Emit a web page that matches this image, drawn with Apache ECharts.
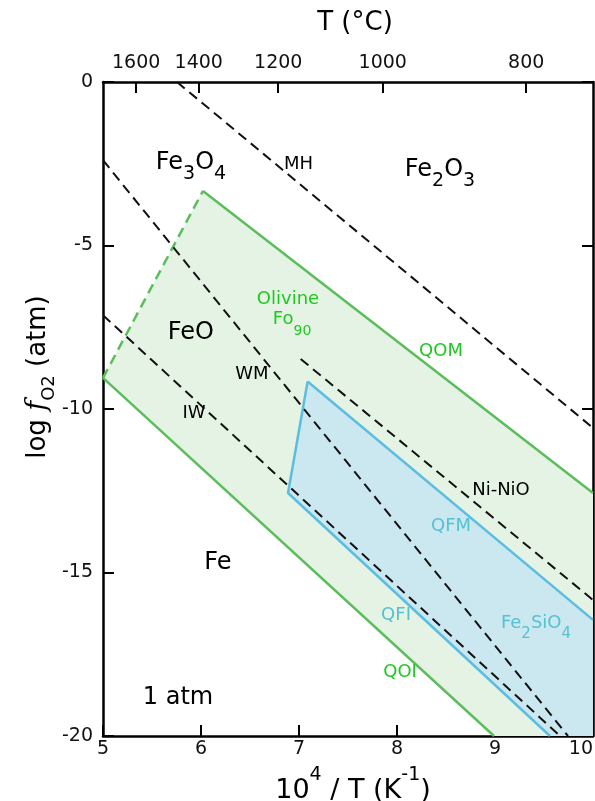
<!DOCTYPE html>
<html>
<head>
<meta charset="utf-8">
<script src="https://cdn.jsdelivr.net/npm/echarts@6/dist/echarts.min.js"></script>
<style>
html,body{margin:0;padding:0;background:#fff;}
#chart{width:595px;height:801px;}
</style>
</head>
<body>
<div id="chart"></div>
<script>
// ---- data (x = 10^4/T in K^-1, y = log fO2 in atm) ----
const xRange = [5, 10];
const yRange = [-20, 0];
const topTempTicksC = [1600, 1400, 1200, 1000, 800];

const olivineFo90Field = [[5, -9.05], [6.02, -3.33], [10, -12.57], [10, -20], [8.99, -20]];
const fayaliteField = [[6.888, -12.57], [7.088, -9.16], [10, -16.45], [10, -20], [9.561, -20]];

const QOM = [[6.02, -3.33], [10, -12.57]];
const QOI = [[5, -9.05], [8.99, -20]];
const olivineHighT = [[5, -9.05], [6.02, -3.33]];
const QFM = [[7.088, -9.16], [10, -16.45]];
const QFI = [[7.088, -9.16], [6.888, -12.57], [9.561, -20]];

const MH = [[5.755, 0], [10, -10.58]];
const WM = [[5, -2.39], [9.745, -20]];
const IW = [[5, -7.13], [9.663, -20]];
const NiNiO = [[7.017, -8.47], [10, -15.84]];

const labelTexts = ['{m|Fe}{s|3}{m|O}{s|4}', 'MH', '{m|Fe}{s|2}{m|O}{s|3}', 'Olivine', '{m|Fo}{s|90}', 'FeO', 'WM', 'QOM', 'IW', 'Ni-NiO', 'QFM', 'Fe', 'QFI', '{m|Fe}{s|2}{m|SiO}{s|4}', 'QOI', '1 atm'];
const labelX = [5.898, 6.995, 8.439, 6.888, 6.929, 5.895, 6.520, 8.449, 5.929, 9.061, 8.551, 6.173, 7.990, 9.418, 8.031, 5.765];
const labelY = [-2.47, -2.52, -2.69, -6.66, -7.27, -7.66, -8.95, -8.24, -10.14, -12.49, -13.59, -14.69, -16.31, -16.55, -18.05, -18.84];
const labelKind = ['bigSub', 'black', 'bigSub', 'green', 'greenSub', 'big', 'black', 'green', 'black', 'black', 'blue', 'big', 'blue', 'blueSub', 'green', 'atm'];

// ---- styles ----
const FONT = 'DejaVu Sans';
const GREEN_LINE = '#5cbd5c';
const GREEN_FILL = '#e5f3e5';
const BLUE_LINE = '#5bbde2';
const BLUE_FILL = '#cbe7ef';
const GREEN_TEXT = '#1fc81f';
const BLUE_TEXT = '#55c2cf';
const INK = '#000';

function kindStyle(kind) {
  const base = { fontFamily: FONT, color: INK, fontSize: 18, textBorderWidth: 0, textShadowBlur: 0 };
  if (kind === 'black') return base;
  if (kind === 'green') return Object.assign({}, base, { color: GREEN_TEXT });
  if (kind === 'blue') return Object.assign({}, base, { color: BLUE_TEXT });
  if (kind === 'big') return Object.assign({}, base, { fontSize: 24 });
  if (kind === 'atm') return Object.assign({}, base, { fontSize: 24 });
  const mk = (col, M, S, off) => {
    const L = S + 2 * (0.3 * M + off - 0.3 * S);
    return Object.assign({}, base, {
      color: col,
      rich: {
        m: { fontFamily: FONT, fontSize: M, color: col, lineHeight: L, textBorderWidth: 0 },
        s: { fontFamily: FONT, fontSize: S, color: col, lineHeight: S, verticalAlign: 'bottom', textBorderWidth: 0 }
      }
    });
  };
  if (kind === 'bigSub') return mk(INK, 24, 19, 10);
  if (kind === 'greenSub') return mk(GREEN_TEXT, 18, 14, 10);
  if (kind === 'blueSub') return mk(BLUE_TEXT, 18, 15, 10);
  return base;
}

function polygonSeries(vertices, fill, z) {
  return {
    type: 'custom',
    coordinateSystem: 'cartesian2d',
    xAxisIndex: 0, yAxisIndex: 0,
    z: z,
    silent: true,
    data: vertices,
    renderItem: function (params, api) {
      if (params.dataIndex !== 0) return null;
      const pts = vertices.map(v => api.coord(v));
      return { type: 'polygon', shape: { points: pts }, style: { fill: fill, stroke: null } };
    }
  };
}

function lineSeries(data, color, width, dashed, z) {
  return {
    type: 'line',
    xAxisIndex: 0, yAxisIndex: 0,
    data: data,
    symbol: 'none',
    z: z,
    silent: true,
    lineStyle: { color: color, width: width, type: dashed ? [10, 6] : 'solid', cap: 'butt' }
  };
}

const axisLineStyle = { color: '#000', width: 2.5 };
const tickStyle = { color: '#000', width: 2 };
const tickLabel = { fontFamily: FONT, fontSize: 19, color: '#111' };

const option = {
  animation: false,
  backgroundColor: '#fff',
  grid: { left: 103, right: 2, top: 82, bottom: 65, containLabel: false, outerBoundsMode: 'none' },
  xAxis: [
    {
      type: 'value', position: 'bottom', min: xRange[0], max: xRange[1], interval: 1,
      axisLine: { show: true, onZero: false, lineStyle: axisLineStyle },
      axisTick: { show: true, inside: true, length: 11, lineStyle: tickStyle },
      axisLabel: Object.assign({ margin: 4, hideOverlap: false, showMaxLabel: true, showMinLabel: true, alignMaxLabel: 'right' }, tickLabel),
      splitLine: { show: false },
      name: '{m|10}{p|4}{m| / T (K}{p|-1}{m|)}',
      nameLocation: 'middle',
      nameGap: 30,
      nameTextStyle: {
        fontFamily: FONT, fontSize: 27, color: INK, padding: [0, 0, 0, 10],
        rich: {
          m: { fontFamily: FONT, fontSize: 27, color: INK, lineHeight: 50 },
          p: { fontFamily: FONT, fontSize: 19, color: INK, lineHeight: 19, verticalAlign: 'top' }
        }
      }
    },
    {
      type: 'value', position: 'top', min: xRange[0], max: xRange[1],
      axisLine: { show: true, onZero: false, lineStyle: axisLineStyle },
      axisTick: { show: true, inside: true, length: 11, lineStyle: tickStyle,
        customValues: topTempTicksC.map(t => 10000 / (t + 273.15)) },
      axisLabel: Object.assign({ margin: 9,
        customValues: topTempTicksC.map(t => 10000 / (t + 273.15)),
        formatter: v => String(Math.round((10000 / v - 273.15) / 100) * 100) }, tickLabel),
      splitLine: { show: false },
      name: 'T (°C)',
      nameLocation: 'middle',
      nameGap: 46,
      nameTextStyle: { fontFamily: FONT, fontSize: 26, color: INK, padding: [0, 0, 0, 14] }
    }
  ],
  yAxis: [
    {
      type: 'value', position: 'left', min: yRange[0], max: yRange[1], interval: 5,
      axisLine: { show: true, onZero: false, lineStyle: axisLineStyle },
      axisTick: { show: true, inside: true, length: 11, lineStyle: tickStyle },
      axisLabel: Object.assign({ margin: 10 }, tickLabel),
      splitLine: { show: false },
      name: '{m|log }{i|f}{s|O2}{m| (atm)}',
      nameLocation: 'middle',
      nameGap: 45,
      nameMoveOverlap: false,
      nameTextStyle: {
        fontFamily: FONT, fontSize: 26, color: INK, padding: [0, 0, 0, 64],
        rich: {
          m: { fontFamily: FONT, fontSize: 26, color: INK, lineHeight: 40 },
          i: { fontFamily: 'DejaVu Serif', fontStyle: 'italic', fontSize: 27, color: INK, lineHeight: 40 },
          s: { fontFamily: FONT, fontSize: 18, color: INK, lineHeight: 18, verticalAlign: 'bottom' }
        }
      }
    },
    {
      type: 'value', position: 'right', min: yRange[0], max: yRange[1], interval: 5,
      axisLine: { show: true, onZero: false, lineStyle: axisLineStyle },
      axisTick: { show: true, inside: true, length: 11, lineStyle: tickStyle },
      axisLabel: { show: false },
      splitLine: { show: false }
    }
  ],
  series: [
    polygonSeries(olivineFo90Field, GREEN_FILL, 1),
    polygonSeries(fayaliteField, BLUE_FILL, 2),
    lineSeries(QOM, GREEN_LINE, 2.5, false, 3),
    lineSeries(QOI, GREEN_LINE, 2.5, false, 3),
    lineSeries(olivineHighT, GREEN_LINE, 2.5, true, 3),
    lineSeries(QFM, BLUE_LINE, 2.5, false, 4),
    lineSeries(QFI, BLUE_LINE, 2.5, false, 4),
    lineSeries(MH, '#111', 2, true, 5),
    lineSeries(WM, '#111', 2, true, 5),
    lineSeries(IW, '#111', 2, true, 5),
    lineSeries(NiNiO, '#111', 2, true, 5),
    {
      type: 'scatter',
      xAxisIndex: 0, yAxisIndex: 0,
      symbolSize: 0,
      z: 10,
      silent: true,
      itemStyle: { opacity: 1 },
      data: labelTexts.map((t, i) => ({
        value: [labelX[i], labelY[i]],
        label: Object.assign({ show: true, position: 'inside', align: 'center', verticalAlign: 'middle',
          formatter: t }, kindStyle(labelKind[i]))
      }))
    }
  ]
};

const chart = echarts.init(document.getElementById('chart'), null, { renderer: 'canvas' });
chart.setOption(option);
</script>
</body>
</html>
